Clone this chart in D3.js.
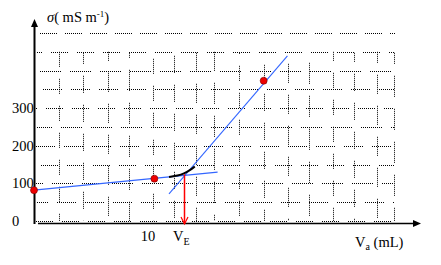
<!DOCTYPE html>
<html>
<head>
<meta charset="utf-8">
<script src="https://cdn.jsdelivr.net/npm/d3@7"></script>
<style>
  body { margin: 0; background: #fff; }
  svg { display: block; }
  text { font-family: "Liberation Serif", "Times New Roman", serif; fill: #000; }
</style>
</head>
<body>
<script>
// measured points (Va in mL, sigma in mS/m)
var points = [[0, 82], [10.03, 112.5], [19.14, 373]]
var line1 = [[0, 82], [15.3, 130]]
var line2 = [[11.25, 72], [21.12, 439]]
var bend = [[11.25, 117], [12, 120.5], [12.5, 126], [13, 135], [13.4, 145]]
var vE = 12.5
var yTicks = [0, 100, 200, 300]
var xTicks = [10]
var gridX = [2.1, 4.1, 6.2, 7.9, 9.9, 11.7, 13.5, 15, 17.1, 19.2, 21.2, 22.9, 24.9, 26.7, 28.6, 30]
var gridY = [0, 50, 100, 150, 200, 250, 300, 350, 400, 450]

function dots(n, gap) {
  var a = []
  for (var i = 0; i < n; i++) { a.push(1); a.push(1) }
  a[a.length - 1] = gap
  return a.join(" ")
}

function main() {
  width = 441
  height = 265

  canvas = d3.select("body")
  .append("svg")
  .attr("width", width)
  .attr("height", height)

  var x = d3.scaleLinear().domain([0, 32]).range([34, 418])
  var y = d3.scaleLinear().domain([0, 500]).range([221, 33])
  var px = function(v) { return Math.round(x(v)) + 0.5 }
  var py = function(v) { return Math.round(y(v)) + 0.5 }

  // dotted grid, broken like the original graph paper
  var grid = canvas.append("g").attr("class", "grid")
  .attr("stroke", "#000").attr("stroke-width", 1)

  grid.selectAll("line.h")
  .data(gridY)
  .enter()
  .append("line")
  .attr("x1", x(0) + 2).attr("x2", x(30))
  .attr("y1", function(d) { return py(d) })
  .attr("y2", function(d) { return py(d) })
  .attr("stroke-dasharray", function(d, i) { return dots(9 + (i % 3), 9) })
  .attr("stroke-dashoffset", function(d, i) { return i * 7 })

  grid.append("line")
  .attr("x1", 40).attr("x2", x(30) + 2)
  .attr("y1", py(500)).attr("y2", py(500))
  .attr("stroke-dasharray", dots(9, 8))

  grid.selectAll("line.v")
  .data(gridX)
  .enter()
  .append("line")
  .attr("x1", function(d) { return px(d) })
  .attr("x2", function(d) { return px(d) })
  .attr("y1", y(450)).attr("y2", y(0))
  .attr("stroke-dasharray", function(d, i) { return dots(8 + (i % 4), 12) })
  .attr("stroke-dashoffset", function(d, i) { return i * 5 })

  // axes
  canvas.append("line")
  .attr("x1", 34.5).attr("x2", 34.5)
  .attr("y1", 24).attr("y2", 224)
  .attr("stroke", "#000").attr("stroke-width", 2)
  canvas.append("path")
  .attr("d", "M34.5,19 L38,27 L31,27 Z")
  .attr("fill", "#000")

  canvas.append("line")
  .attr("x1", 38).attr("x2", 414)
  .attr("y1", 223.5).attr("y2", 223.5)
  .attr("stroke", "#000").attr("stroke-width", 1.5)
  canvas.append("path")
  .attr("d", "M421,223.5 L413,220 L413,227 Z")
  .attr("fill", "#000")

  // tick labels
  canvas.selectAll("text.ytick")
  .data(yTicks)
  .enter()
  .append("text")
  .attr("x", 12)
  .attr("y", function(d) { return y(d) + 5 })
  .attr("font-size", 14.5)
  .text(function(d) { return d })

  canvas.selectAll("text.xtick")
  .data(xTicks)
  .enter()
  .append("text")
  .attr("x", function(d) { return x(d) - 6 })
  .attr("y", 241)
  .attr("text-anchor", "middle")
  .attr("font-size", 14.5)
  .text(function(d) { return d })

  // axis titles
  var t = canvas.append("text").attr("x", 47).attr("y", 22).attr("font-size", 14.5)
  t.append("tspan").attr("font-style", "italic").text("σ")
  t.append("tspan").text("( mS m")
  t.append("tspan").attr("font-size", 9).attr("dy", -5).text("-1")
  t.append("tspan").attr("dy", 5).text(")")

  var xt = canvas.append("text").attr("x", 355).attr("y", 247).attr("font-size", 14.5)
  xt.append("tspan").text("V")
  xt.append("tspan").attr("font-size", 10).attr("dy", 3).text("a")
  xt.append("tspan").attr("dy", -3).text(" (mL)")

  var et = canvas.append("text").attr("x", 173).attr("y", 241).attr("font-size", 14.5)
  et.append("tspan").text("V")
  et.append("tspan").attr("font-size", 10).attr("dy", 4).text("E")

  // fitted lines
  var lineGen = d3.line().x(function(d) { return x(d[0]) }).y(function(d) { return y(d[1]) })

  canvas.append("path")
  .attr("d", lineGen(line1))
  .attr("fill", "none").attr("stroke", "#3366ff").attr("stroke-width", 1.1)

  canvas.append("path")
  .attr("d", lineGen(line2))
  .attr("fill", "none").attr("stroke", "#3366ff").attr("stroke-width", 1.1)

  canvas.append("path")
  .attr("d", lineGen.curve(d3.curveBasis)(bend))
  .attr("fill", "none").attr("stroke", "#000").attr("stroke-width", 2)

  // equivalence arrow
  var ex = px(vE)
  canvas.append("line")
  .attr("x1", ex).attr("x2", ex)
  .attr("y1", y(124)).attr("y2", 224)
  .attr("stroke", "red").attr("stroke-width", 1.5)
  canvas.append("path")
  .attr("d", "M" + (ex - 3.5) + ",217 L" + ex + ",224 L" + (ex + 3.5) + ",217")
  .attr("fill", "none").attr("stroke", "red").attr("stroke-width", 1.2)

  // data points
  canvas.selectAll("circle.pt")
  .data(points)
  .enter()
  .append("circle")
  .attr("cx", function(d) { return x(d[0]) })
  .attr("cy", function(d) { return y(d[1]) })
  .attr("r", 3.5)
  .attr("fill", "#ee0000")
  .attr("stroke", "#700").attr("stroke-width", 0.6)
}

main()
</script>
</body>
</html>
